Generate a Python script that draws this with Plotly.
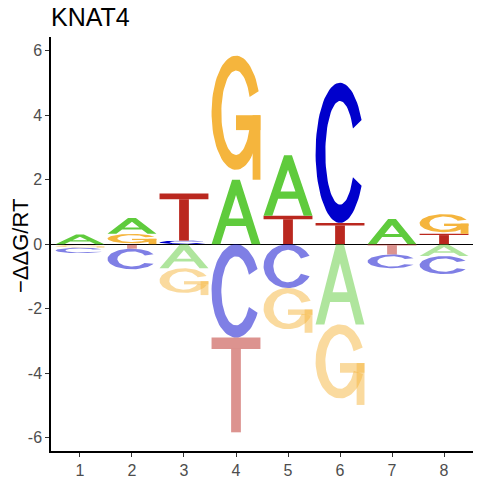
import numpy as np
import plotly.graph_objects as go

# energy logo values (-ddG/RT), one list per base
positions = [1, 2, 3, 4, 5, 6, 7, 8]
x_labels = ["1", "2", "3", "4", "5", "6", "7", "8"]
bases = ["A", "C", "G", "T"]
energy_A = [0.30, 0.49, -0.75, 2.00, 1.88, -2.49, 0.78, -0.37]
energy_C = [-0.17, -0.64, 0.11, -2.90, -1.36, 4.35, -0.43, -0.56]
energy_G = [-0.09, 0.32, -0.83, 3.85, -1.39, -2.50, 0.00, 0.61]
energy_T = [-0.02, -0.14, 1.46, -2.94, 0.88, 0.66, -0.32, 0.32]
y_ticks = [-6, -4, -2, 0, 2, 4, 6]
y_labels = ["-6", "-4", "-2", "0", "2", "4", "6"]

energies = {"A": energy_A, "C": energy_C, "G": energy_G, "T": energy_T}
colors = {"A": (95, 203, 60), "C": (0, 0, 204), "G": (245, 181, 61), "T": (186, 40, 31)}
LETTER_W = 0.94


def arc(cx, cy, rx, ry, a0, a1, n=70):
    t = np.radians(np.linspace(a0, a1, n))
    return list(zip(cx + rx * np.cos(t), cy + ry * np.sin(t)))


def ring(cy, ry, inner_rx, inner_ry, a0, a1):
    outer = arc(0.5, cy, 0.5, ry, a0, a1)
    inner = arc(0.5, cy, inner_rx, inner_ry, a1, a0)
    pts = outer + inner
    return pts + [pts[0]]


def rect(u0, u1, v0, v1):
    return [(u0, v0), (u1, v0), (u1, v1), (u0, v1), (u0, v0)]


def glyph(letter):
    """Parts of a letter in a unit box; each part is a list of rings (holes wound the other way)."""
    if letter == "A":
        outer = [(0, 0), (0.18, 0), (0.2976, 0.28), (0.7024, 0.28), (0.82, 0), (1, 0),
                 (0.58, 1), (0.42, 1), (0, 0)]
        hole = [(0.348, 0.40), (0.5, 0.762), (0.652, 0.40), (0.348, 0.40)]
        return [[outer, hole]]
    if letter == "C":
        return [[ring(0.5, 0.5, 0.30, 0.37, 28, 332)]]
    if letter == "G":
        return [[ring(0.54, 0.46, 0.30, 0.34, 22, 340)],
                [rect(0.50, 1.0, 0.40, 0.52)],
                [rect(0.84, 1.0, 0.0, 0.52)]]
    # T
    return [[rect(0.0, 1.0, 0.88, 1.0)], [rect(0.40, 0.60, 0.0, 0.88)]]


fig = go.Figure()

for i, pos in enumerate(positions):
    vals = {b: energies[b][i] for b in bases}
    for sign in (1, -1):
        stack = sorted([b for b in bases if vals[b] * sign > 0], key=lambda b: abs(vals[b]))
        base = 0.0
        for b in stack:
            h = abs(vals[b])
            y0 = base if sign > 0 else -base - h
            base += h
            r, g, bl = colors[b]
            alpha = 1.0 if sign > 0 else 0.5
            fill = f"rgba({r},{g},{bl},{alpha})"
            for part in glyph(b):
                xs, ys = [], []
                for k, ring_pts in enumerate(part):
                    if k:
                        xs.append(None)
                        ys.append(None)
                    xs += [pos - LETTER_W / 2 + u * LETTER_W for u, v in ring_pts]
                    ys += [y0 + v * h for u, v in ring_pts]
                fig.add_trace(go.Scatter(
                    x=xs, y=ys, mode="lines", fill="toself", fillcolor=fill,
                    line=dict(width=0, color=fill), hoverinfo="skip", showlegend=False,
                ))

fig.update_layout(
    width=480, height=480,
    margin=dict(l=51, r=7, t=37, b=29),
    paper_bgcolor="white", plot_bgcolor="white",
    font=dict(family="Liberation Sans, Arial, sans-serif"),
    showlegend=False,
    title=dict(text="KNAT4", x=0, xref="paper", xanchor="left",
               y=1 - 17 / 480, yref="container", yanchor="middle",
               font=dict(size=25, color="black")),
)
fig.add_annotation(
    text="\u2212\u0394\u0394G/RT", textangle=-90, showarrow=False,
    xref="paper", x=(20.5 - 51) / 422, xanchor="center",
    yref="paper", y=0.494, yanchor="middle",
    font=dict(size=22, color="black"),
)
fig.update_xaxes(
    range=[0.443, 8.557], tickvals=positions, ticktext=x_labels,
    ticks="outside", ticklen=4, tickwidth=1.2, tickcolor="#333333",
    showline=True, linecolor="black", linewidth=1.5, showgrid=False, zeroline=False,
    tickfont=dict(size=16, color="#4D4D4D"), automargin=False,
)
fig.update_yaxes(
    range=[-6.42, 6.43], tickvals=y_ticks, ticktext=y_labels,
    ticks="outside", ticklen=4, tickwidth=1.2, tickcolor="#333333",
    showline=True, linecolor="black", linewidth=1.5, showgrid=False,
    zeroline=True, zerolinecolor="black", zerolinewidth=1,
    tickfont=dict(size=16, color="#4D4D4D"), automargin=False,
)

fig.write_html("out.html", config={"displayModeBar": False},
               post_script="document.body.style.margin='0';")
